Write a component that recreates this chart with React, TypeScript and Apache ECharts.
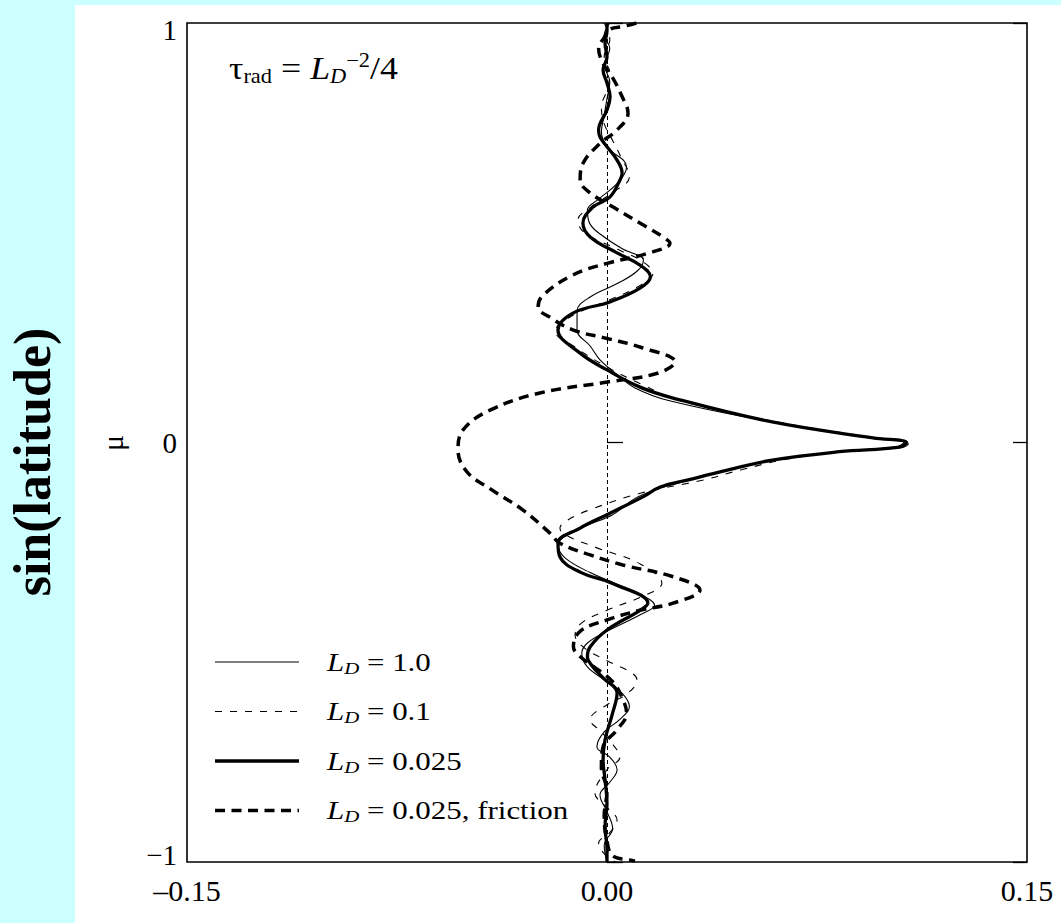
import React, { useEffect, useRef } from "react";
import * as echarts from "echarts";

// ---------- data ----------
const xTickLabels = ["–0.15", "0.00", "0.15"];
const yTickLabels = ["−1", "0", "1"];
const seriesNames = ["LD = 1.0", "LD = 0.1", "LD = 0.025", "LD = 0.025, friction"];

// [x, mu] pairs, ordered from mu = 1 to mu = -1
const ldOne: [number, number][] = [
  [0.001, 1.0], [-0.001, 0.97], [0.001, 0.94], [-0.001, 0.9], [0.001, 0.86], [0.0, 0.82],
  [-0.001, 0.78], [-0.002, 0.74], [0.0, 0.705], [0.007, 0.657], [0.004, 0.62], [-0.003, 0.58],
  [-0.007, 0.554], [-0.006, 0.52], [-0.001, 0.49], [0.006, 0.46], [0.013, 0.435], [0.011, 0.41],
  [0.004, 0.38], [-0.006, 0.347], [-0.0107, 0.313], [-0.0107, 0.268], [-0.006, 0.23],
  [-0.0025, 0.197], [0.004, 0.16], [0.01, 0.13], [0.022, 0.1], [0.058, 0.05], [0.094, 0.011],
  [0.106, 0.0], [0.103, -0.011], [0.082, -0.022], [0.057, -0.045], [0.04, -0.07], [0.026, -0.095],
  [0.011, -0.13], [0.002, -0.172], [-0.009, -0.204], [-0.0175, -0.245], [-0.015, -0.275],
  [-0.006, -0.31], [0.011, -0.36], [0.017, -0.388], [0.012, -0.41], [0.0, -0.45], [-0.007, -0.478],
  [-0.009, -0.503], [-0.007, -0.535], [0.0, -0.57], [0.0057, -0.6], [0.008, -0.63], [0.0046, -0.66],
  [-0.001, -0.69], [-0.0036, -0.725], [0.001, -0.75], [0.0036, -0.78], [0.001, -0.81],
  [-0.0025, -0.84], [0.0, -0.88], [0.002, -0.92], [-0.001, -0.96], [0.0, -1.0],
];

const ldPointOne: [number, number][] = [
  [-0.001, 1.0], [0.001, 0.96], [-0.001, 0.92], [0.001, 0.88], [0.0, 0.84], [-0.002, 0.8],
  [-0.001, 0.76], [0.002, 0.72], [0.005, 0.68], [0.008, 0.633], [0.003, 0.6], [-0.006, 0.56],
  [-0.0104, 0.53], [-0.008, 0.5], [0.004, 0.46], [0.013, 0.43], [0.0164, 0.403], [0.012, 0.375],
  [0.001, 0.34], [-0.013, 0.3], [-0.0185, 0.265], [-0.012, 0.23], [0.0, 0.18], [0.012, 0.14],
  [0.026, 0.1], [0.06, 0.05], [0.096, 0.011], [0.108, 0.0], [0.106, -0.011], [0.086, -0.02],
  [0.064, -0.04], [0.048, -0.065], [0.034, -0.09], [0.0125, -0.12], [-0.006, -0.16],
  [-0.014, -0.185], [-0.0168, -0.204], [-0.015, -0.22], [-0.004, -0.25], [0.012, -0.29],
  [0.0196, -0.336], [0.015, -0.36], [0.0, -0.4], [-0.009, -0.43], [-0.0114, -0.459],
  [-0.008, -0.49], [0.0, -0.52], [0.009, -0.55], [0.0107, -0.566], [0.007, -0.6], [0.0, -0.625],
  [-0.006, -0.661], [-0.002, -0.69], [0.0036, -0.733], [0.0046, -0.75], [0.0, -0.78],
  [-0.0043, -0.836], [0.0, -0.87], [0.0036, -0.9], [0.001, -0.93], [-0.003, -0.955],
  [-0.001, -0.98], [0.003, -1.0],
];

const ldSmall: [number, number][] = [
  [0.0, 1.0], [0.0, 0.982], [-0.0007, 0.951], [0.0, 0.919], [-0.0014, 0.888], [0.0, 0.857],
  [0.0011, 0.824], [0.0, 0.793], [-0.003, 0.745], [-0.0025, 0.728], [0.0, 0.705], [0.0036, 0.673],
  [0.0054, 0.642], [0.0046, 0.625], [0.001, 0.585], [-0.005, 0.561], [-0.0086, 0.523],
  [-0.006, 0.49], [0.0036, 0.452], [0.0118, 0.423], [0.0155, 0.395], [0.0118, 0.368],
  [0.001, 0.335], [-0.012, 0.309], [-0.0175, 0.268], [-0.0096, 0.213], [0.0, 0.173],
  [0.0118, 0.132], [0.0236, 0.106], [0.059, 0.049], [0.095, 0.011], [0.107, 0.0],
  [0.1046, -0.011], [0.083, -0.022], [0.059, -0.042], [0.043, -0.066], [0.029, -0.089],
  [0.019, -0.106], [0.013, -0.129], [0.0, -0.172], [-0.0096, -0.204], [-0.0175, -0.24],
  [-0.0168, -0.273], [-0.0096, -0.309], [0.002, -0.336], [0.0146, -0.383], [0.0118, -0.4],
  [0.0, -0.447], [-0.006, -0.487], [-0.007, -0.511], [-0.005, -0.535], [-0.0014, -0.561],
  [0.0036, -0.597], [0.002, -0.645], [-0.0007, -0.709], [-0.0014, -0.757], [-0.0007, -0.804],
  [0.0, -0.86], [-0.0007, -0.916], [0.0, -0.971], [0.0, -1.0],
];

const ldFriction: [number, number][] = [
  [0.0105, 1.0], [0.006, 0.992], [0.001, 0.985], [-0.001, 0.965], [-0.003, 0.94],
  [-0.0015, 0.905], [0.002, 0.87], [0.005, 0.83], [0.0075, 0.785], [0.0036, 0.745],
  [-0.0025, 0.713], [-0.0086, 0.665], [-0.0096, 0.626], [-0.006, 0.595], [0.0025, 0.56],
  [0.0125, 0.52], [0.02, 0.49], [0.0225, 0.475], [0.014, 0.45], [0.0, 0.427], [-0.012, 0.4],
  [-0.023, 0.35], [-0.0246, 0.323], [-0.02, 0.297], [-0.012, 0.268], [0.0, 0.248],
  [0.012, 0.227], [0.0243, 0.192], [0.018, 0.165], [0.0, 0.144], [-0.024, 0.118],
  [-0.0418, 0.077], [-0.0514, 0.03], [-0.0532, -0.018], [-0.05, -0.07], [-0.0418, -0.11],
  [-0.03, -0.161], [-0.0204, -0.216], [-0.0168, -0.24], [-0.006, -0.268], [0.0057, -0.292],
  [0.0236, -0.32], [0.0332, -0.352], [0.0236, -0.383], [0.0118, -0.4], [0.0, -0.423],
  [-0.0096, -0.45], [-0.012, -0.487], [-0.0096, -0.51], [-0.005, -0.533], [0.002, -0.57],
  [0.0057, -0.613], [0.007, -0.645], [0.0036, -0.685], [-0.0014, -0.725], [-0.002, -0.775],
  [0.0, -0.83], [-0.001, -0.89], [0.0, -0.95], [0.002, -0.985], [0.008, -0.995], [0.01, -0.998],
];

const SERIF = "'Liberation Serif', 'DejaVu Serif', serif";

const lineStyles: { width: number; dash: number[] | null }[] = [
  { width: 1.1, dash: null },
  { width: 1.1, dash: [7, 8] },
  { width: 3.3, dash: null },
  { width: 3.5, dash: [10, 6.5] },
];

export default function App() {
  const ref = useRef<HTMLDivElement>(null);
  useEffect(() => {
    if (!ref.current) return;
    const chart = echarts.init(ref.current, undefined, { renderer: "svg" });

    const textRich = (big: number, small: number) => ({
      i: { fontFamily: SERIF, fontSize: big, fontStyle: "italic", fill: "#000", lineHeight: 30 },
      s: { fontFamily: SERIF, fontSize: small, fontStyle: "italic", fill: "#000", verticalAlign: "bottom", lineHeight: 10 },
      n: { fontFamily: SERIF, fontSize: big, fill: "#000", lineHeight: 30 },
    });

    const legendRows = [662, 711.5, 761, 810.5];
    const legendGraphics: any[] = [];
    seriesNames.forEach((name, k) => {
      const ls = lineStyles[k];
      legendGraphics.push({
        type: "line",
        shape: { x1: 215, y1: legendRows[k], x2: 299, y2: legendRows[k] },
        style: { stroke: "#000", lineWidth: ls.width, lineDash: ls.dash || undefined },
        z: 5,
      });
      legendGraphics.push({
        type: "text",
        x: 327, y: legendRows[k], scaleX: 1.19,
        style: {
          text: `{i|L}{s|D}{n|${name.slice(2)}}`,
          verticalAlign: "middle", align: "left",
          rich: textRich(26, 17.5),
        },
        z: 5,
      });
    });

    const lineSeries = (k: number, data: [number, number][]) => ({
      name: seriesNames[k],
      type: "line",
      data,
      smooth: 0.4,
      symbol: "none",
      showSymbol: false,
      lineStyle: { color: "#000", width: lineStyles[k].width, type: lineStyles[k].dash || "solid" },
      itemStyle: { color: "#000" },
      z: 3,
    });

    const yLabelStyle = { fontFamily: SERIF, fontSize: 29, color: "#000" };

    chart.setOption({
      animation: false,
      backgroundColor: "#fff",
      grid: {
        left: 187, right: 34, top: 23, bottom: 61,
        show: true, borderColor: "#000", borderWidth: 1.6, backgroundColor: "#fff",
      },
      xAxis: {
        type: "value", min: -0.15, max: 0.15, interval: 0.15,
        axisLine: { show: false }, axisTick: { show: false }, splitLine: { show: false },
        axisLabel: {
          showMinLabel: true, showMaxLabel: true,
          fontFamily: SERIF, fontSize: 30, color: "#000", margin: 13,
          formatter: (v: number) => xTickLabels[Math.round(v / 0.15) + 1],
        },
      },
      yAxis: [
        {
          type: "value", min: -1, max: 1, interval: 1, position: "left",
          axisLine: { show: false }, splitLine: { show: false },
          axisTick: { show: true, inside: true, length: 16, lineStyle: { color: "#000", width: 1.3 } },
          axisLabel: {
            ...yLabelStyle, margin: 10,
            formatter: (v: number) => {
              const k = Math.round(v) + 1;
              const key = k === 0 ? "lo" : k === 2 ? "hi" : "mid";
              return `{${key}|${yTickLabels[k]}}`;
            },
            rich: {
              lo: { ...yLabelStyle, padding: [0, 0, 14, 0] },
              hi: { ...yLabelStyle, padding: [14, 0, 0, 0] },
              mid: { ...yLabelStyle },
            },
          },
        },
        {
          type: "value", min: -1, max: 1, interval: 1, position: "right",
          axisLine: { show: false }, splitLine: { show: false },
          axisTick: { show: true, inside: true, length: 14, lineStyle: { color: "#000", width: 1.3 } },
          axisLabel: { show: false },
        },
      ],
      graphic: [
        { type: "rect", left: 0, top: 0, shape: { width: 75, height: 923 }, style: { fill: "#ccffff" }, z: -10 },
        { type: "rect", left: 0, top: 0, shape: { width: 1061, height: 5 }, style: { fill: "#ccffff" }, z: -10 },
        {
          type: "text", x: 32, y: 462, rotation: Math.PI / 2,
          style: {
            text: "sin(latitude)", fontFamily: SERIF, fontSize: 52, fontWeight: "bold",
            fill: "#000", align: "center", verticalAlign: "middle",
          },
        },
        {
          type: "text", x: 112, y: 443, rotation: Math.PI / 2,
          style: {
            text: "μ", fontFamily: SERIF, fontSize: 30,
            fill: "#000", align: "center", verticalAlign: "middle",
          },
        },
        {
          type: "text", x: 229, y: 50, scaleX: 1.12,
          style: {
            text: "{t|τ}{sub|rad}{n| = }{i|L}{s|D}{sup|−2}{n|/4}",
            fill: "#000",
            rich: {
              t: { fontFamily: SERIF, fontSize: 32, lineHeight: 36, fill: "#000" },
              n: { fontFamily: SERIF, fontSize: 32, lineHeight: 36, fill: "#000" },
              i: { fontFamily: SERIF, fontSize: 32, fontStyle: "italic", lineHeight: 36, fill: "#000" },
              sub: { fontFamily: SERIF, fontSize: 20, lineHeight: 14, verticalAlign: "bottom", fill: "#000" },
              s: { fontFamily: SERIF, fontSize: 20, fontStyle: "italic", lineHeight: 14, verticalAlign: "bottom", fill: "#000" },
              sup: { fontFamily: SERIF, fontSize: 20, lineHeight: 12, verticalAlign: "top", fill: "#000" },
            },
          },
        },
        ...legendGraphics,
      ],
      series: [
        {
          ...lineSeries(0, ldOne),
          markLine: {
            silent: true, symbol: "none", label: { show: false },
            lineStyle: { color: "#000", width: 1, type: [4, 3] },
            data: [{ xAxis: 0 }],
          },
        },
        lineSeries(1, ldPointOne),
        lineSeries(2, ldSmall),
        lineSeries(3, ldFriction),
      ],
    });
    return () => chart.dispose();
  }, []);
  return <div ref={ref} style={{ position: "fixed", left: 0, top: 0, width: 1061, height: 923 }} />;
}
